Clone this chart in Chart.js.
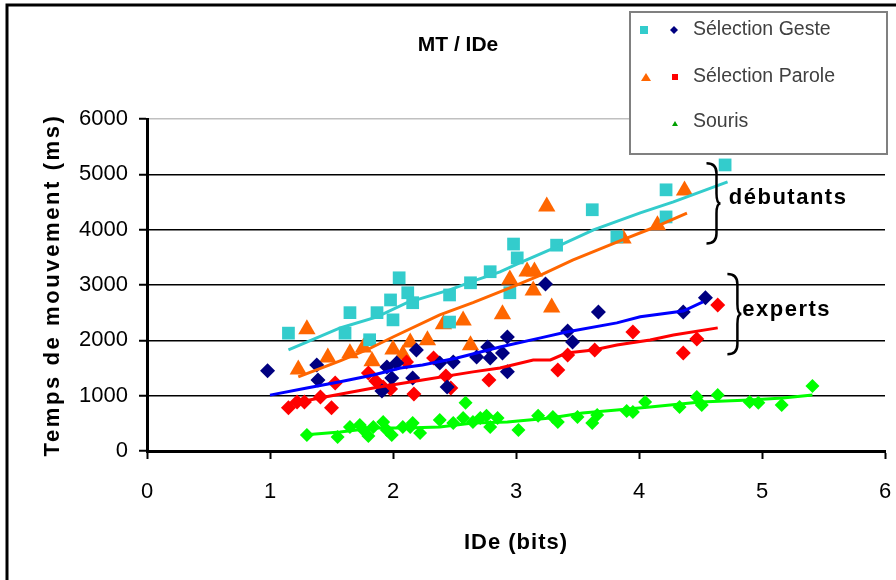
<!DOCTYPE html>
<html><head><meta charset="utf-8">
<script src="https://cdn.jsdelivr.net/npm/chart.js@4.4.1/dist/chart.umd.min.js"></script>
<style>html,body{margin:0;padding:0;background:#fff}#wrap{width:896px;height:580px;position:relative}</style>
</head><body><div id="wrap"><canvas id="c" width="896" height="580"></canvas></div>
<script>
// ---- Data ----
const chartTitle = "MT / IDe";
const xTitle = "IDe (bits)";
const yTitle = "Temps de mouvement (ms)";
const xTicks = [0, 1, 2, 3, 4, 5, 6];
const yTicks = [0, 1000, 2000, 3000, 4000, 5000, 6000];
const legendNames = ["Sélection Geste", "Sélection Parole", "Souris"];
const groupNames = ["débutants", "experts"];

// Sélection Geste – débutants (squares)
const gesteDebX = [1.15,1.61,1.65,1.81,1.87,1.98,2.00,2.05,2.12,2.16,2.46,2.46,2.63,2.79,2.95,2.98,3.01,3.33,3.62,3.82,4.22,4.22,4.70];
const gesteDebY = [2130,2130,2500,2010,2500,2730,2370,3130,2860,2680,2820,2330,3040,3240,2860,3740,3490,3720,4360,3870,4720,4230,5170];
const gesteDebTrendX = [1.15,1.57,1.87,2.11,2.46,2.68,2.87,3.03,3.33,3.63,4.01,4.28,4.72];
const gesteDebTrendY = [1826,2224,2423,2676,2911,3092,3236,3399,3688,3996,4303,4502,4864];

// Sélection Parole – débutants (triangles)
const paroleDebX = [1.23,1.30,1.47,1.65,1.76,1.83,2.00,2.08,2.14,2.28,2.41,2.57,2.63,2.89,2.95,3.09,3.15,3.14,3.29,3.25,3.87,4.15,4.37];
const paroleDebY = [1475,2200,1690,1765,1870,1620,1835,1745,1960,2000,2290,2360,1910,2470,3100,3245,3245,2900,2595,4420,3840,4080,4710];
const paroleDebTrendX = [1.23,1.57,1.79,2.00,2.38,2.65,2.95,3.20,3.46,3.66,3.87,4.11,4.39];
const paroleDebTrendY = [1340,1630,1830,2060,2460,2680,2950,3180,3450,3630,3820,4030,4300];

// Sélection Geste – experts (navy diamonds)
const gesteExpX = [0.98,1.38,1.39,1.91,1.95,1.99,2.03,2.16,2.19,2.38,2.44,2.49,2.68,2.77,2.79,2.89,2.93,2.93,3.24,3.42,3.46,3.67,4.36,4.54];
const gesteExpY = [1450,1555,1285,1085,1520,1320,1590,1320,1825,1590,1155,1610,1700,1880,1680,1770,2060,1430,3020,2170,1970,2510,2510,2770];
const gesteExpTrendX = [1.00,1.30,1.57,1.84,2.06,2.24,2.52,2.87,3.20,3.41,3.82,4.01,4.36,4.52];
const gesteExpTrendY = [1010,1140,1250,1375,1500,1555,1680,1880,2045,2150,2315,2425,2530,2695];

// Sélection Parole – experts (red diamonds)
const paroleExpX = [1.15,1.22,1.28,1.41,1.50,1.53,1.80,1.86,1.92,1.98,2.11,2.17,2.33,2.43,2.47,2.78,3.34,3.42,3.64,3.95,4.36,4.47,4.64];
const paroleExpY = [780,885,885,975,780,1230,1410,1265,1155,1120,1610,1030,1680,1355,1140,1285,1465,1735,1825,2150,1770,2025,2640];
const paroleExpTrendX = [1.15,1.49,1.84,2.24,2.65,2.87,3.14,3.28,3.41,3.63,3.82,4.09,4.28,4.64];
const paroleExpTrendY = [850,995,1140,1285,1430,1500,1645,1645,1770,1825,1915,2005,2095,2225];

// Souris (green diamonds)
const sourisX = [1.30,1.55,1.65,1.73,1.76,1.80,1.84,1.92,1.95,1.99,2.08,2.14,2.16,2.22,2.38,2.49,2.57,2.59,2.65,2.71,2.76,2.79,2.85,3.02,3.18,3.30,3.34,3.50,3.62,3.66,3.90,3.95,4.05,4.33,4.47,4.51,4.64,4.90,4.97,5.16,5.41];
const sourisY = [290,255,435,470,380,270,435,525,380,290,435,435,505,325,560,505,595,870,525,595,635,435,595,380,635,615,525,615,505,650,725,705,885,795,975,830,1010,885,870,830,1175];
const sourisTrendX = [1.27,1.57,1.84,2.11,2.38,2.65,2.93,3.28,3.54,3.82,4.09,4.50,4.90,5.17,5.41];
const sourisTrendY = [289,344,416,416,434,506,524,597,687,741,796,886,922,958,1012];

// ---- Build ----
const FONT = '"Liberation Sans", Arial, Helvetica, sans-serif';
const pts = (xs, ys) => xs.map((x, i) => ({x: x, y: ys[i]}));

function markers(label, xs, ys, style, r, color, order) {
  return {label, data: pts(xs, ys), showLine: false, pointStyle: style, pointRadius: r,
    pointHoverRadius: r, backgroundColor: color, borderColor: color, pointBorderWidth: 0, order};
}
function trend(label, xs, ys, color, order) {
  return {label, data: pts(xs, ys), showLine: true, pointRadius: 0, borderColor: color,
    backgroundColor: color, borderWidth: 3, tension: 0, fill: false, order};
}

const datasets = [
  trend('Tendance Geste débutants', gesteDebTrendX, gesteDebTrendY, '#33CCCC', 1),
  trend('Tendance Parole débutants', paroleDebTrendX, paroleDebTrendY, '#FF6600', 1),
  trend('Tendance Geste experts', gesteExpTrendX, gesteExpTrendY, '#0000FF', 1),
  trend('Tendance Parole experts', paroleExpTrendX, paroleExpTrendY, '#FF0000', 1),
  trend('Tendance Souris', sourisTrendX, sourisTrendY, '#00FF00', 1),
  markers('Sélection Geste débutants', gesteDebX, gesteDebY, 'rect', 9, '#33CCCC', 3),
  markers('Sélection Parole débutants', paroleDebX, paroleDebY, 'triangle', 10, '#FF6600', 3),
  markers('Sélection Geste experts', gesteExpX, gesteExpY, 'rectRot', 7.5, '#000080', 2),
  markers('Sélection Parole experts', paroleExpX, paroleExpY, 'rectRot', 7.5, '#FF0000', 2),
  markers('Souris', sourisX, sourisY, 'rectRot', 7, '#00FF00', 2)
];

const decor = {
  id: 'decor',
  afterLayout(chart) {
    const ys = chart.scales.y, xs = chart.scales.x;
    if (!ys._ls) {
      const o = ys.drawTitle;
      ys.drawTitle = function () { const c = this.ctx; c.save(); try { c.letterSpacing = '2.6px'; } catch (e) {} o.call(this); c.restore(); };
      ys._ls = true;
    }
    if (!xs._ls) {
      const o = xs.drawTitle;
      xs.drawTitle = function () { const c = this.ctx; c.save(); try { c.letterSpacing = '1px'; } catch (e) {} o.call(this); c.restore(); };
      xs._ls = true;
    }
  },
  beforeDraw(chart) {
    const c = chart.ctx; c.save(); c.fillStyle = '#fff'; c.fillRect(0, 0, chart.width, chart.height); c.restore();
  },
  afterDraw(chart) {
    const c = chart.ctx, X = chart.scales.x, Y = chart.scales.y;
    c.save();
    // outer frame
    c.strokeStyle = '#000'; c.lineWidth = 3;
    c.strokeRect(7, 5, 900, 600);
    // title
    c.fillStyle = '#000'; c.font = 'bold 21px ' + FONT; c.textAlign = 'center'; c.textBaseline = 'middle';
    c.fillText(chartTitle, 458, 45);
    // legend box
    c.fillStyle = '#fff'; c.fillRect(630, 12, 257, 142);
    c.strokeStyle = '#808080'; c.lineWidth = 2; c.strokeRect(630, 12, 257, 142);
    // legend markers
    c.fillStyle = '#33CCCC'; c.fillRect(640, 26, 8, 8);
    c.fillStyle = '#000080'; c.beginPath(); c.moveTo(670, 30); c.lineTo(674, 26); c.lineTo(678, 30); c.lineTo(674, 34); c.closePath(); c.fill();
    c.fillStyle = '#FF6600'; c.beginPath(); c.moveTo(641, 81); c.lineTo(646, 73); c.lineTo(651, 81); c.closePath(); c.fill();
    c.fillStyle = '#FF0000'; c.fillRect(672, 74, 6, 6);
    c.fillStyle = '#00A000'; c.beginPath(); c.moveTo(672, 126); c.lineTo(675, 121); c.lineTo(678, 126); c.closePath(); c.fill();
    c.fillStyle = '#404040'; c.font = '19.5px ' + FONT; c.textAlign = 'left';
    c.fillText(legendNames[0], 693, 30);
    c.fillText(legendNames[1], 693, 77);
    c.fillText(legendNames[2], 693, 122);
    // braces (positioned in data space)
    function brace(xv, y1, y2, w) {
      const x = X.getPixelForValue(xv), top = Y.getPixelForValue(y1), bot = Y.getPixelForValue(y2);
      const mid = (top + bot) / 2, hw = w;
      c.beginPath();
      c.moveTo(x - hw, top);
      c.quadraticCurveTo(x, top, x, top + 10);
      c.lineTo(x, mid - 10);
      c.quadraticCurveTo(x, mid, x + 4, mid);
      c.quadraticCurveTo(x, mid, x, mid + 10);
      c.lineTo(x, bot - 10);
      c.quadraticCurveTo(x, bot, x - hw, bot);
      c.stroke();
    }
    c.strokeStyle = '#000'; c.lineWidth = 2.5;
    brace(4.63, 5200, 3750, 10);
    brace(4.80, 3200, 1750, 10);
    c.fillStyle = '#000'; c.font = 'bold 22px ' + FONT; c.textBaseline = 'middle';
    try { c.letterSpacing = '1.5px'; } catch (e) {}
    c.fillText(groupNames[0], X.getPixelForValue(4.73), Y.getPixelForValue(4580));
    c.fillText(groupNames[1], X.getPixelForValue(4.84), Y.getPixelForValue(2550));
    c.restore();
  }
};

new Chart(document.getElementById('c'), {
  type: 'scatter',
  data: {datasets},
  options: {
    responsive: false, animation: false, devicePixelRatio: 1,
    layout: {autoPadding: false, padding: {left: 0, right: 11, top: 119, bottom: 0}},
    plugins: {legend: {display: false}, tooltip: {enabled: false}, title: {display: false}},
    scales: {
      x: {
        type: 'linear', min: 0, max: 6,
        afterBuildTicks: (s) => { s.ticks = xTicks.map(v => ({value: v})); },
        afterFit: (s) => { s.height = 129; s.paddingRight = 0; s.paddingLeft = 0; },
        ticks: {color: '#000', font: {family: FONT, size: 22}, padding: 20, maxRotation: 0,
          callback: (v) => String(v)},
        grid: {drawOnChartArea: false, drawTicks: true, tickLength: 8, tickColor: '#000', tickWidth: 2},
        border: {display: true, color: '#000', width: 3},
        title: {display: true, text: xTitle, color: '#000', font: {family: FONT, size: 22, weight: 'bold'}, padding: {top: 0, bottom: 24}}
      },
      y: {
        type: 'linear', min: 0, max: 6000,
        afterBuildTicks: (s) => { s.ticks = yTicks.map(v => ({value: v})); },
        afterFit: (s) => { s.width = 147; },
        ticks: {color: '#000', font: {family: FONT, size: 22}, padding: 11, callback: (v) => String(v)},
        grid: {drawOnChartArea: true, drawTicks: true, tickLength: 8, lineWidth: 1.5, tickWidth: 2, tickColor: '#000',
          color: (ctx) => (ctx.tick && ctx.tick.value === 6000) ? '#c0c0c0' : '#000'},
        border: {display: true, color: '#000', width: 3},
        title: {display: true, text: yTitle, color: '#000', font: {family: FONT, size: 22, weight: 'bold'}, padding: {top: 40, bottom: 0}}
      }
    }
  },
  plugins: [decor]
});
</script></body></html>
